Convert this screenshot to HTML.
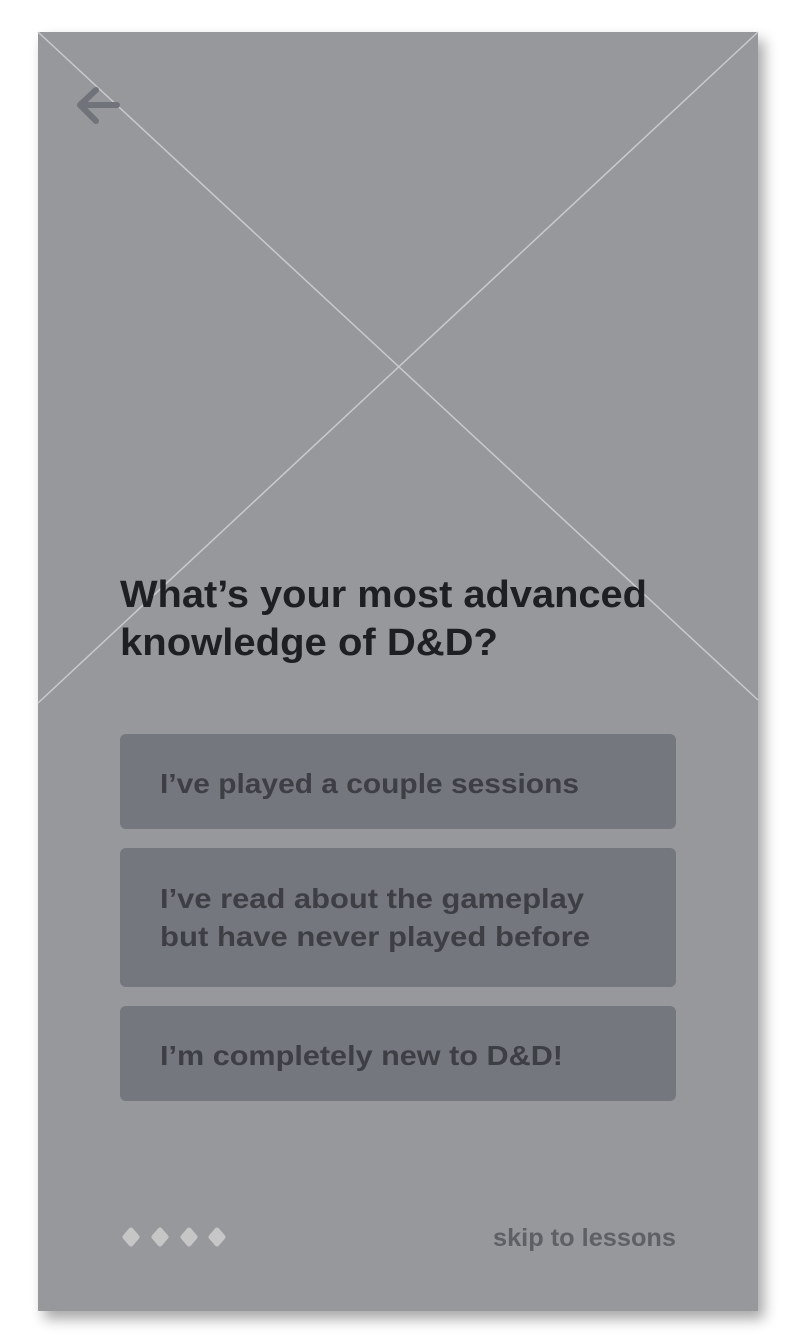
<!DOCTYPE html>
<html><head><style>
html,body{margin:0;padding:0;background:#fff;}
svg{display:block;}
</style></head><body>
<svg width="796" height="1344" viewBox="0 0 796 1344" xmlns="http://www.w3.org/2000/svg">
<defs>
<filter id="sh" x="-10%" y="-10%" width="120%" height="120%">
<feGaussianBlur in="SourceAlpha" stdDeviation="7"/>
<feOffset dx="6" dy="8"/>
<feComponentTransfer><feFuncA type="linear" slope="0.35"/></feComponentTransfer>
<feMerge><feMergeNode/><feMergeNode in="SourceGraphic"/></feMerge>
</filter>
</defs>
<rect x="38" y="32" width="720" height="1279" fill="#96989c" filter="url(#sh)"/>
<line x1="38" y1="32" x2="758" y2="700" stroke="#c9cacd" stroke-width="1.5"/>
<line x1="758" y1="32" x2="38" y2="703" stroke="#c9cacd" stroke-width="1.5"/>
<g stroke="#707379" stroke-width="6" stroke-linecap="round" stroke-linejoin="round" fill="none">
<path d="M96 90 L80 105 L96 121"/>
<path d="M80 105 L117 105"/>
</g>
<g font-family="Liberation Sans, sans-serif" font-weight="bold" font-size="38" fill="#1e1f22">
<text x="120" y="607" textLength="527" lengthAdjust="spacingAndGlyphs">What’s your most advanced</text>
<text x="120" y="655" textLength="378" lengthAdjust="spacingAndGlyphs">knowledge of D&amp;D?</text>
</g>
<rect x="120" y="734" width="556" height="95" rx="6" fill="#74777e"/>
<rect x="120" y="848" width="556" height="139" rx="6" fill="#74777e"/>
<rect x="120" y="1006" width="556" height="95" rx="6" fill="#74777e"/>
<g font-family="Liberation Sans, sans-serif" font-weight="bold" font-size="28" fill="#3d3f44">
<text x="160" y="793" textLength="419" lengthAdjust="spacingAndGlyphs">I’ve played a couple sessions</text>
<text x="160" y="908" textLength="424" lengthAdjust="spacingAndGlyphs">I’ve read about the gameplay</text>
<text x="160" y="946" textLength="430" lengthAdjust="spacingAndGlyphs">but have never played before</text>
<text x="160" y="1065" textLength="403" lengthAdjust="spacingAndGlyphs">I’m completely new to D&amp;D!</text>
</g>
<g fill="#c6c6c7" stroke="#c6c6c7" stroke-width="5" stroke-linejoin="round">
<path d="M131 1230 L137 1237 L131 1244 L125 1237Z"/>
<path d="M160 1230 L166 1237 L160 1244 L154 1237Z"/>
<path d="M189 1230 L195 1237 L189 1244 L183 1237Z"/>
<path d="M217 1230 L223 1237 L217 1244 L211 1237Z"/>
</g>
<text x="493" y="1246" font-family="Liberation Sans, sans-serif" font-weight="bold" font-size="25" fill="#5e6066" textLength="183" lengthAdjust="spacingAndGlyphs">skip to lessons</text>
</svg>
</body></html>
